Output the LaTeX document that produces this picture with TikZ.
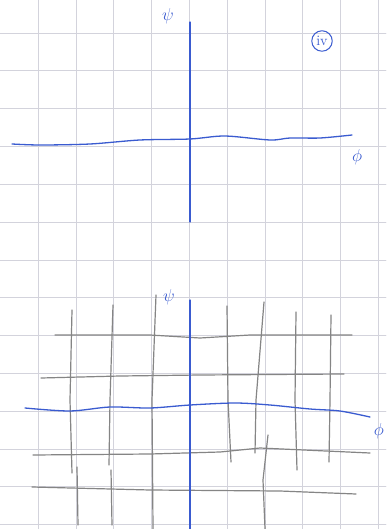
\documentclass[tikz,border=0pt]{standalone}
\usepackage{amsmath}
\usepackage{tikz}
\usetikzlibrary{shapes}
\definecolor{ink}{HTML}{3A5BD0}
\definecolor{pencil}{HTML}{858585}
\definecolor{paper}{HTML}{D3D3DC}
\tikzset{
  every picture/.style={line join=round, line cap=round},
  gridline/.style={paper, line width=0.6pt},
  inkline/.style={ink, line width=1.3pt},
  pencilline/.style={pencil, line width=1.2pt},
  inklabel/.style={ink, font=\LARGE, inner sep=1pt},
}

\begin{document}
\begin{tikzpicture}[x=1pt,y=-1pt]
    \useasboundingbox (0,0) rectangle (386,529);
    % Squared Paper
    \fill[white] (0,0) rectangle (386,529);
    \foreach \i in {0,...,9} \draw[gridline] (38+37.8*\i,0) -- (38+37.8*\i,529);
    \foreach \j in {0,...,13} \draw[gridline] (0,33+37.8*\j) -- (386,33+37.8*\j);
    % Top Sketch: Axes
    \draw[inkline] (190,22) -- (190,222);
    \draw[inkline] plot[smooth] coordinates {(12,144) (40,145) (90,144) (140,140) (190,139) (225,136) (270,140) (290,138) (320,138) (352,135)};
    \node[inklabel] (psiTop) at (168,16) {$\psi$};
    \node[inklabel] (phiTop) at (357,157) {$\phi$};
    % Part Number
    \node[ink, draw, circle, line width=1pt, inner sep=2pt, font=\Large] (part) at (322,41) {iv};
    % Bottom Sketch: Pencil Lattice
    \draw[pencilline] (55,335) -- (150,335) -- (200,338) -- (250,335) -- (352,335);
    \draw[pencilline] (41,378) -- (120,376) -- (200,375) -- (344,374);
    \draw[pencilline] (33,455) -- (150,454) -- (220,452) -- (260,448) -- (370,453);
    \draw[pencilline] (32,487) -- (150,490) -- (280,491) -- (356,494);
    \draw[pencilline] (72,310) -- (70,400) -- (72,473);
    \draw[pencilline] (77,467) -- (78,525);
    \draw[pencilline] (113,305) -- (110,400) -- (109,465);
    \draw[pencilline] (111,470) -- (112,525);
    \draw[pencilline] (156,295) -- (152,400) -- (153,529);
    \draw[pencilline] (227,306) -- (228,400) -- (231,462);
    \draw[pencilline] (264,302) -- (256,400) -- (255,453);
    \draw[pencilline] (268,435) -- (263,480) -- (265,529);
    \draw[pencilline] (296,312) -- (295,400) -- (297,470);
    \draw[pencilline] (331,315) -- (330,400) -- (329,462);
    % Bottom Sketch: Axes
    \draw[inkline] (190,300) -- (190,529);
    \draw[inkline] plot[smooth] coordinates {(25,408) (70,411) (110,407) (150,408) (190,405) (235,403) (270,405) (310,409) (340,411) (370,417)};
    \node[inklabel] (psiBot) at (169,297) {$\psi$};
    \node[inklabel, anchor=east] (phiBot) at (385,431) {$\phi$};
\end{tikzpicture}
\end{document}
